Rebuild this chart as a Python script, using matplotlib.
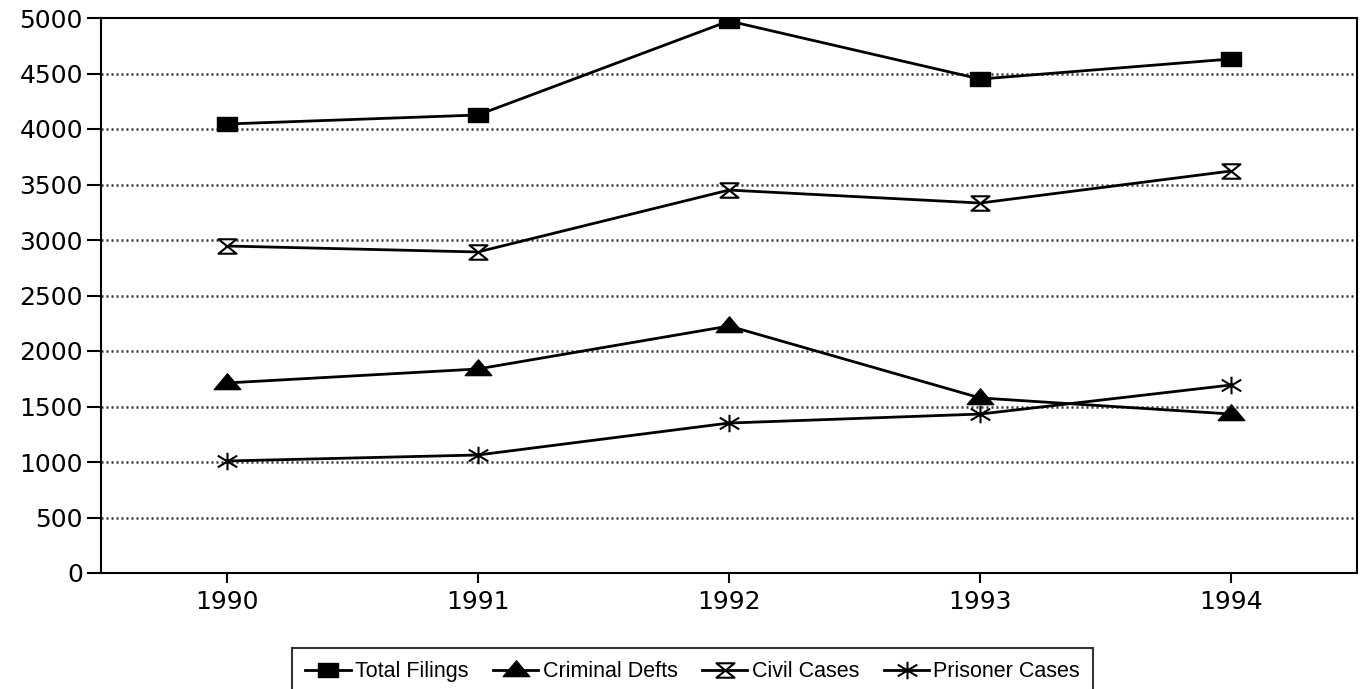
import matplotlib
matplotlib.use("Agg")
import matplotlib.pyplot as plt
from matplotlib.path import Path
import numpy as np

years = ["1990", "1991", "1992", "1993", "1994"]
total_filings = [4045, 4126, 4973, 4450, 4631]
criminal_defts = [1712, 1838, 2225, 1577, 1432]
civil_cases = [2946, 2892, 3450, 3333, 3622]
prisoner_cases = [1009, 1063, 1351, 1432, 1694]

# custom marker shapes
rect = Path([(-1, -0.65), (1, -0.65), (1, 0.65), (-1, 0.65), (-1, -0.65)],
            [Path.MOVETO, Path.LINETO, Path.LINETO, Path.LINETO, Path.CLOSEPOLY])
tri = Path([(-1.3, -0.6), (1.3, -0.6), (0, 0.95), (-1.3, -0.6)],
           [Path.MOVETO, Path.LINETO, Path.LINETO, Path.CLOSEPOLY])
hourglass = Path([(-1, 0.8), (1, 0.8), (-1, -0.8), (1, -0.8), (-1, 0.8)],
                 [Path.MOVETO, Path.LINETO, Path.LINETO, Path.LINETO, Path.CLOSEPOLY])
star = Path([(-1, 0.6), (1, -0.6), (-1, -0.6), (1, 0.6), (0, 0.9), (0, -0.9)],
            [Path.MOVETO, Path.LINETO, Path.MOVETO, Path.LINETO, Path.MOVETO, Path.LINETO])

plt.rcParams['font.family'] = ['DejaVu Sans']

fig = plt.figure(figsize=(13.67, 6.89), dpi=100)
ax = fig.add_axes([101 / 1367, 1 - 573 / 689, (1357 - 101) / 1367, (573 - 18) / 689])

x = np.arange(len(years))
ax.plot(x, total_filings, color='black', lw=2, marker=rect, ms=15,
        label='Total Filings', zorder=3)
ax.plot(x, criminal_defts, color='black', lw=2, marker=tri, ms=19,
        label='Criminal Defts', zorder=3)
ax.plot(x, civil_cases, color='black', lw=2, marker=hourglass, ms=13,
        mfc='white', mec='black', mew=1.5, label='Civil Cases', zorder=3)
ax.plot(x, prisoner_cases, color='black', lw=2, marker=star, ms=14,
        mew=1.5, label='Prisoner Cases', zorder=3)

ax.set_xlim(-0.5, 4.5)
ax.set_ylim(0, 5000)
ax.set_xticks(x)
ax.set_xticklabels(years)
ax.set_yticks(np.arange(0, 5001, 500))
ax.tick_params(axis='y', direction='out', length=10, width=1.5, labelsize=18, pad=3)
ax.tick_params(axis='x', direction='out', length=7, width=1.5, labelsize=18, pad=5)

for v in range(500, 5000, 500):
    ax.axhline(v, color='#333333', lw=1.8, ls=(0, (0.8, 1.2)), zorder=1)

for s in ax.spines.values():
    s.set_linewidth(1.5)

leg = fig.legend(loc='upper left', bbox_to_anchor=(292 / 1367, 1 - 648 / 689),
                 ncol=4, frameon=True, fancybox=False, edgecolor='black',
                 handlelength=2.1, handletextpad=0.2, columnspacing=1.15,
                 borderpad=0.62, borderaxespad=0,
                 prop={'family': ['Liberation Sans Narrow', 'Liberation Sans'], 'size': 15.5})
leg.get_frame().set_linewidth(1.5)

fig.savefig("out.png", dpi=100)
